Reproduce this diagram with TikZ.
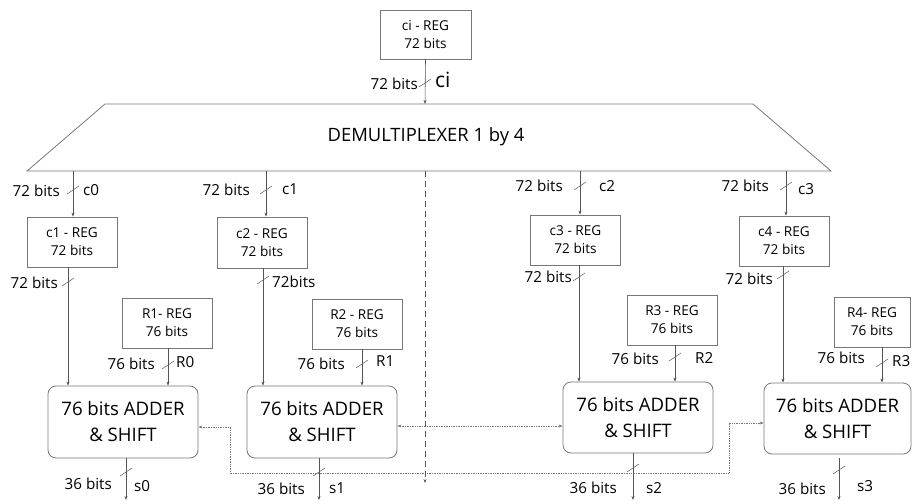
\documentclass[tikz,border=0pt]{standalone}
\usepackage{fontspec}
\setmainfont{Open Sans}
\usetikzlibrary{arrows.meta,calc}
\definecolor{ln}{HTML}{555555}
\definecolor{bx}{HTML}{777777}
\tikzset{
  x=1pt,y=-1pt,
  regbox/.style={draw=bx,line width=0.8pt,minimum width=90pt,minimum height=50pt,align=center,font=\fontsize{13.6}{18}\selectfont,inner sep=0pt},
  addbox/.style={draw=bx,line width=0.8pt,rounded corners=8pt,minimum width=150pt,minimum height=72pt,align=center,font=\fontsize{18.6}{26}\selectfont,inner sep=0pt},
  arr/.style={draw=ln,line width=0.6pt,-{Stealth[length=4pt,width=3pt]}},
  wire/.style={draw=ln,line width=0.6pt},
  dotarr/.style={draw=ln!80,line width=0.7pt,densely dotted,{Stealth[length=4pt,width=3pt]}-{Stealth[length=4pt,width=3pt]}},
  dasharr/.style={draw=ln,line width=0.6pt,dash pattern=on 6pt off 4pt,-{Stealth[length=4pt,width=3pt]}},
  lab/.style={font=\fontsize{15.2}{17}\selectfont,inner sep=1pt},
  bus/.pic={\draw[ln,line width=0.5pt] (-6,4) -- (6,-4);}
}
\begin{document}
\begin{tikzpicture}
\useasboundingbox (0,0) rectangle (912,503);
% top register
\node[regbox,minimum width=91pt,minimum height=49pt] (ciREG) at (425.5,34.5) {ci - REG\\72 bits};
% demultiplexer
\draw[bx,line width=0.8pt] (105,104) coordinate (dtl) -- (753,104) coordinate (dtr) -- (831,171) coordinate (dbr) -- (27,171) coordinate (dbl) -- cycle;
\node[font=\fontsize{18.4}{20}\selectfont] (dmx) at (426,137) {DEMULTIPLEXER 1 by 4};
\coordinate (cin) at (425,104);
\draw[arr] (ciREG.south) -- (cin);
\pic at (425,83) {bus};
\node[lab,anchor=east] (lci1) at (419,84) {72 bits};
\node[font=\fontsize{21}{22}\selectfont,anchor=west,inner sep=1pt] (lci2) at (434,80) {ci};

% first-level registers
\node[regbox] (R1) at (72,242) {c1 - REG\\72 bits};
\node[regbox,minimum height=51pt] (R2) at (262,242.5) {c2 - REG\\72 bits};
\node[regbox] (R3) at (575.5,240) {c3 - REG\\72 bits};
\node[regbox] (R4) at (784,241) {c4 - REG\\72 bits};
\coordinate (o0) at (73,171);
\coordinate (o1) at (266,171);
\coordinate (o2) at (580,171);
\coordinate (o3) at (786,171);
\draw[arr] (o0) -- (o0 |- R1.north);
\draw[arr] (o1) -- (o1 |- R2.north);
\draw[arr] (o2) -- (o2 |- R3.north);
\draw[arr] (o3) -- (o3 |- R4.north);
\pic at (73,190) {bus};
\pic at (266,190) {bus};
\pic at (580,186) {bus};
\pic at (786,186) {bus};
\node[lab,anchor=east] (l00) at (61,191) {72 bits};
\node[lab,anchor=west] (l01) at (82,190) {c0};
\node[lab,anchor=east] (l10) at (251,190) {72 bits};
\node[lab,anchor=west] (l11) at (281,189) {c1};
\node[lab,anchor=east] (l20) at (564,186) {72 bits};
\node[lab,anchor=west] (l21) at (598,186) {c2};
\node[lab,anchor=east] (l30) at (770,186) {72 bits};
\node[lab,anchor=west] (l31) at (797,189) {c3};

% R registers
\node[regbox] (Q1) at (167,323) {R1- REG\\76 bits};
\node[regbox] (Q2) at (357,324) {R2 - REG\\76 bits};
\node[regbox] (Q3) at (672,320) {R3 - REG\\76 bits};
\node[regbox,minimum width=76pt] (Q4) at (872,322) {R4- REG\\76 bits};

% adders
\node[addbox] (A1) at (123,422) {76 bits ADDER\\\& SHIFT};
\node[addbox] (A2) at (322,422) {76 bits ADDER\\\& SHIFT};
\node[addbox,minimum height=71pt] (A3) at (638,417.5) {76 bits ADDER\\\& SHIFT};
\node[addbox,minimum width=147pt,minimum height=71pt] (A4) at (837.5,418.5) {76 bits ADDER\\\& SHIFT};

% c-reg to adder
\coordinate (p1) at (68,267);
\coordinate (p2) at (263,268);
\coordinate (p3) at (579,265);
\coordinate (p4) at (783,266);
\draw[arr] (p1) -- (p1 |- A1.north);
\draw[arr] (p2) -- (p2 |- A2.north);
\draw[arr] (p3) -- (p3 |- A3.north);
\draw[arr] (p4) -- (p4 |- A4.north);
\pic at (68,282) {bus};
\pic at (263,280) {bus};
\pic at (579,277) {bus};
\pic at (783,275) {bus};
\node[lab,anchor=east] (m1) at (59,283) {72 bits};
\node[lab,anchor=west] (m2) at (271,282) {72bits};
\node[lab,anchor=east] (m3) at (573,277) {72 bits};
\node[lab,anchor=east] (m4) at (774,279) {72 bits};

% R-reg to adder
\coordinate (q1) at (168,348);
\coordinate (q2) at (362,349);
\coordinate (q3) at (675,345);
\coordinate (q4) at (882,347);
\draw[arr] (q1) -- (q1 |- A1.north);
\draw[arr] (q2) -- (q2 |- A2.north);
\draw[arr] (q3) -- (q3 |- A3.north);
\draw[arr] (q4) -- (q4 |- A4.north);
\pic at (168,365) {bus};
\pic at (362,364) {bus};
\pic at (675,357) {bus};
\pic at (882,363) {bus};
\node[lab,anchor=east] (n10) at (156,364) {76 bits};
\node[lab,anchor=west] (n11) at (175,362) {R0};
\node[lab,anchor=east] (n20) at (346,364) {76 bits};
\node[lab,anchor=west] (n21) at (375,361) {R1};
\node[lab,anchor=east] (n30) at (660,359) {76 bits};
\node[lab,anchor=west] (n31) at (694,358) {R2};
\node[lab,anchor=east] (n40) at (866,358) {76 bits};
\node[lab,anchor=west] (n41) at (891,361) {R3};

% outputs
\coordinate (s0) at (126,500);
\coordinate (s1) at (319,500);
\coordinate (s2) at (633,500);
\coordinate (s3) at (839,500);
\draw[arr] (s0 |- A1.south) -- (s0);
\draw[arr] (s1 |- A2.south) -- (s1);
\draw[arr] (s2 |- A3.south) -- (s2);
\draw[arr] ($(s3 |- A4.south)+(0,4)$) -- (s3);
\pic at (126,472) {bus};
\pic at (319,472) {bus};
\pic at (633,468) {bus};
\pic at (839,470) {bus};
\node[lab,anchor=east] (t00) at (113,484) {36 bits};
\node[lab,anchor=west] (t01) at (133,486) {s0};
\node[lab,anchor=east] (t10) at (306,489) {36 bits};
\node[lab,anchor=west] (t11) at (328,488) {s1};
\node[lab,anchor=east] (t20) at (618,488) {36 bits};
\node[lab,anchor=west] (t21) at (645,488) {s2};
\node[lab,anchor=east] (t30) at (827,489) {36 bits};
\node[lab,anchor=west] (t31) at (856,486) {s3};

% dotted links
\draw[dotarr] (A1.east |- 0,427) -- (230,427) -- (230,473) -- (729,473) -- (729,423) -- (A4.west |- 0,423);
\draw[dotarr] (A2.east |- 0,426) -- (A3.west |- 0,426);
% dashed divider
\coordinate (dv) at (425,483);
\draw[dasharr] (dv |- dbl) -- (dv);
\end{tikzpicture}
\end{document}
